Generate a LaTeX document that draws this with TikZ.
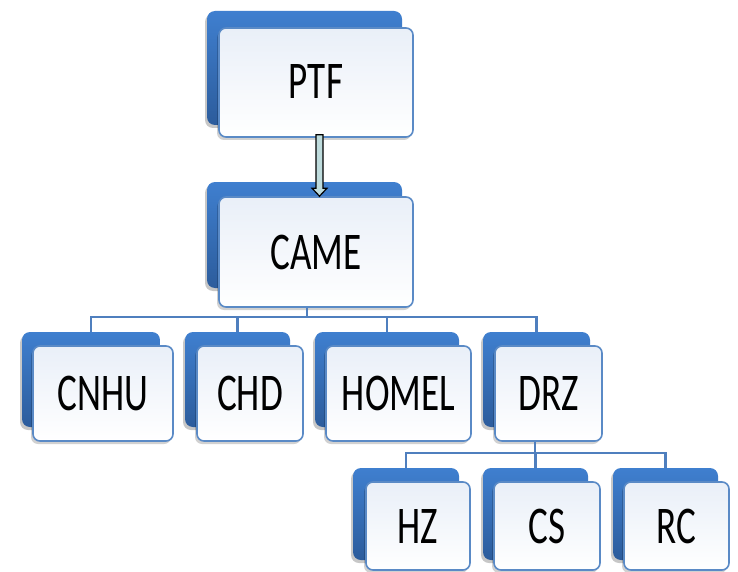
\documentclass[tikz,border=0pt]{standalone}
\usepackage{fontspec}
\setmainfont{Carlito}[FakeStretch=0.70]
\usetikzlibrary{calc,shadows}
\definecolor{backTop}{HTML}{3F7FCF}
\definecolor{backBot}{HTML}{2C5C9C}
\definecolor{frontFill}{HTML}{E9EFF8}
\definecolor{frontLine}{HTML}{5A8AC6}
\definecolor{connCol}{HTML}{4F7FBE}
\definecolor{arrowFill}{HTML}{BFDCDD}
\tikzset{
  backbox/.style={rectangle, rounded corners=8pt, inner sep=0pt, draw=none,
    top color=backTop, bottom color=backBot,
    general shadow={shadow xshift=-2pt, shadow yshift=-3pt, fill=black, opacity=.22}},
  frontbox/.style={rectangle, rounded corners=7pt, inner sep=0pt, draw=frontLine, line width=1.6pt,
    top color=frontFill, middle color=frontFill, bottom color=white,
    general shadow={shadow xshift=-2pt, shadow yshift=-3pt, fill=black, opacity=.18},
    font=\fontsize{53}{60}\selectfont, text=black},
  conn/.style={draw=connCol, line width=2.6pt},
  arrowst/.style={fill=arrowFill, draw=black, line width=1.2pt, line join=miter}
}
\begin{document}
\begin{tikzpicture}[x=1pt,y=-1pt]
\useasboundingbox (0,0) rectangle (738,572);
\clip (0,0) rectangle (738,572);
\fill[white] (0,0) rectangle (738,572);

% junctions
\coordinate (j1) at (307,317);
\coordinate (j2) at (535,453);

% back boxes
\node[backbox, minimum width=195pt, minimum height=114pt] (ptfB) at (304.5,68) {};
\node[backbox, minimum width=195pt, minimum height=106pt] (cameB) at (304.5,235) {};
\node[backbox, minimum width=138pt, minimum height=95pt] (cnhuB) at (91,379.5) {};
\node[backbox, minimum width=105pt, minimum height=95pt] (chdB) at (237.5,379.5) {};
\node[backbox, minimum width=144pt, minimum height=95pt] (homelB) at (387,379.5) {};
\node[backbox, minimum width=107pt, minimum height=95pt] (drzB) at (536.5,379.5) {};
\node[backbox, minimum width=106pt, minimum height=92pt] (hzB) at (406,514) {};
\node[backbox, minimum width=105pt, minimum height=92pt] (csB) at (535.5,514) {};
\node[backbox, minimum width=105pt, minimum height=92pt] (rcB) at (665.5,514) {};

% front boxes
\node[frontbox, minimum width=194pt, minimum height=109pt] (ptfF) at (316,82.5) {\raisebox{3pt}{PTF}};
\node[frontbox, minimum width=194pt, minimum height=110pt] (cameF) at (316,252) {CAME};
\node[frontbox, minimum width=140pt, minimum height=95pt] (cnhuF) at (103,393.5) {CNHU};
\node[frontbox, minimum width=106pt, minimum height=95pt] (chdF) at (250,393.5) {CHD};
\node[frontbox, minimum width=145pt, minimum height=95pt] (homelF) at (398.5,393.5) {HOMEL};
\node[frontbox, minimum width=107pt, minimum height=95pt] (drzF) at (548.5,393.5) {DRZ};
\node[frontbox, minimum width=104pt, minimum height=88pt] (hzF) at (418,526) {HZ};
\node[frontbox, minimum width=106pt, minimum height=88pt] (csF) at (547,526) {CS};
\node[frontbox, minimum width=105pt, minimum height=88pt] (rcF) at (676.5,526) {RC};

% connectors level 1
\draw[conn] (j1 |- cameF.south) -- (j1);
\draw[conn] (cnhuB.north) |- (j1) -| (drzB.north);
\draw[conn] (chdB.north) -- (chdB.north |- j1);
\draw[conn] (homelB.north) -- (homelB.north |- j1);
% connectors level 2
\draw[conn] (j2 |- drzF.south) -- (j2);
\draw[conn] (hzB.north) |- (j2) -| (rcB.north);
\draw[conn] (csB.north) -- (csB.north |- j2);

% arrow PTF -> CAME
\coordinate (a1) at ($(ptfF.south)+(3.5,-3)$);
\coordinate (a2) at (a1 |- cameF.north);
\draw[arrowst] ($(a1)+(-3.5,0)$) -- ($(a2)+(-3.5,-8)$) -- ($(a2)+(-7.5,-8)$) -- (a2)
  -- ($(a2)+(7.5,-8)$) -- ($(a2)+(3.5,-8)$) -- ($(a1)+(3.5,0)$) -- cycle;
\end{tikzpicture}
\end{document}
